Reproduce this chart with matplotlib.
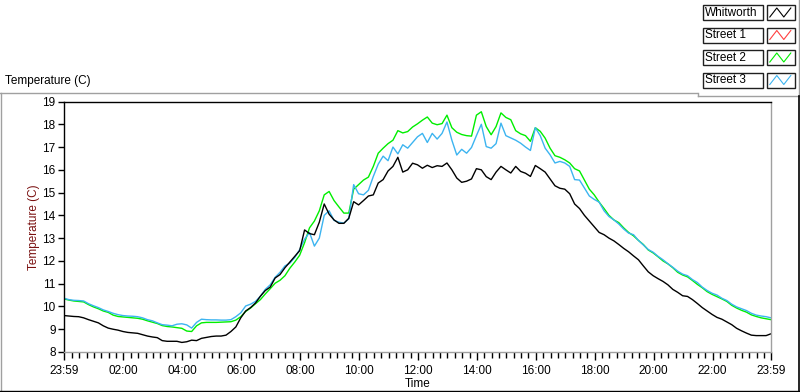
import numpy as np
import matplotlib
matplotlib.use('Agg')
import matplotlib.pyplot as plt
from matplotlib.patches import Rectangle

plt.rcParams['font.family'] = ['Liberation Sans', 'DejaVu Sans']

# sample times, minutes after 23:59 of the previous day (10 min steps)
minutes = np.arange(0, 1441, 10)

whitworth = [
    9.60, 9.58, 9.56, 9.55, 9.50, 9.42, 9.35, 9.28, 9.15, 9.05,
    9.00, 8.96, 8.90, 8.86, 8.84, 8.82, 8.76, 8.70, 8.66, 8.63,
    8.50, 8.47, 8.47, 8.47, 8.42, 8.45, 8.52, 8.50, 8.60, 8.64,
    8.68, 8.70, 8.70, 8.74, 8.90, 9.10, 9.50, 9.80, 9.95, 10.15,
    10.45, 10.70, 10.85, 11.25, 11.40, 11.70, 11.95, 12.20, 12.45, 13.36,
    13.20, 13.15, 13.70, 14.50, 14.05, 13.80, 13.65, 13.65, 13.87, 14.60,
    14.46, 14.65, 14.85, 14.90, 15.42, 15.57, 15.95, 16.15, 16.55, 15.90,
    16.00, 16.29, 16.22, 16.07, 16.20, 16.10, 16.18, 16.15, 16.30, 16.00,
    15.64, 15.45, 15.50, 15.60, 16.05, 16.00, 15.70, 15.57, 15.90, 16.15,
    16.00, 15.86, 16.15, 15.93, 15.85, 15.71, 16.19, 16.05, 15.90, 15.60,
    15.30, 15.19, 15.15, 14.95, 14.50, 14.30, 14.00, 13.75, 13.50, 13.25,
    13.15, 13.00, 12.88, 12.72, 12.55, 12.40, 12.22, 12.05, 11.78, 11.52,
    11.35, 11.22, 11.10, 10.95, 10.75, 10.62, 10.47, 10.44, 10.30, 10.13,
    9.95, 9.80, 9.65, 9.52, 9.44, 9.32, 9.20, 9.04, 8.93, 8.83,
    8.74, 8.72, 8.72, 8.72, 8.80,
]

street1 = []  # no data logged

street2 = [
    10.33, 10.28, 10.24, 10.22, 10.20, 10.08, 9.98, 9.90, 9.80, 9.74,
    9.62, 9.56, 9.54, 9.52, 9.50, 9.48, 9.44, 9.37, 9.31, 9.25,
    9.16, 9.12, 9.10, 9.07, 9.04, 8.92, 8.90, 9.15, 9.28, 9.30,
    9.30, 9.30, 9.31, 9.32, 9.33, 9.40, 9.55, 9.78, 9.93, 10.12,
    10.30, 10.55, 10.78, 11.02, 11.15, 11.35, 11.68, 11.95, 12.25, 12.80,
    13.45, 13.75, 14.20, 14.90, 15.05, 14.65, 14.37, 14.10, 14.10, 15.15,
    15.35, 15.55, 15.68, 16.15, 16.73, 16.95, 17.15, 17.30, 17.72, 17.62,
    17.68, 17.88, 18.02, 18.18, 18.32, 18.05, 17.98, 18.03, 18.40, 17.85,
    17.65, 17.55, 17.50, 17.48, 18.40, 18.55, 17.90, 17.54, 17.90, 18.50,
    18.30, 18.20, 17.72, 17.58, 17.50, 17.25, 17.85, 17.69, 17.39, 16.95,
    16.62, 16.55, 16.44, 16.30, 16.05, 15.95, 15.55, 15.15, 14.90, 14.58,
    14.30, 14.00, 13.80, 13.68, 13.45, 13.25, 13.10, 12.90, 12.72, 12.48,
    12.35, 12.18, 12.00, 11.87, 11.70, 11.50, 11.38, 11.30, 11.14, 10.97,
    10.82, 10.65, 10.53, 10.43, 10.33, 10.22, 10.05, 9.93, 9.83, 9.75,
    9.63, 9.56, 9.50, 9.46, 9.42,
]

street3 = [
    10.36, 10.30, 10.27, 10.26, 10.24, 10.12, 10.03, 9.95, 9.85, 9.78,
    9.70, 9.64, 9.60, 9.58, 9.57, 9.55, 9.50, 9.42, 9.37, 9.28,
    9.20, 9.18, 9.15, 9.22, 9.24, 9.19, 9.05, 9.30, 9.44, 9.42,
    9.41, 9.41, 9.40, 9.40, 9.42, 9.55, 9.72, 10.02, 10.10, 10.22,
    10.45, 10.75, 10.95, 11.28, 11.50, 11.78, 11.90, 12.15, 12.50, 12.95,
    13.25, 12.65, 13.00, 14.00, 14.20, 13.78, 13.70, 13.66, 13.85, 15.35,
    14.95, 14.90, 15.10, 15.71, 16.25, 16.60, 16.40, 17.00, 16.70, 17.10,
    16.95, 17.20, 17.45, 17.60, 17.20, 17.60, 17.35, 17.60, 18.10, 17.30,
    16.65, 16.90, 16.73, 16.98, 17.50, 18.00, 17.02, 16.95, 17.15, 18.05,
    17.50, 17.40, 17.30, 17.17, 17.00, 16.85, 17.85, 17.50, 16.95, 16.66,
    16.30, 16.37, 16.30, 16.15, 15.57, 15.55, 15.20, 14.85, 14.70, 14.58,
    14.20, 13.95, 13.80, 13.62, 13.40, 13.22, 13.15, 12.90, 12.70, 12.50,
    12.38, 12.20, 12.05, 11.88, 11.72, 11.55, 11.42, 11.35, 11.18, 11.05,
    10.85, 10.70, 10.58, 10.50, 10.36, 10.26, 10.10, 9.98, 9.90, 9.82,
    9.70, 9.62, 9.58, 9.55, 9.50,
]

names = ['Whitworth', 'Street 1', 'Street 2', 'Street 3']
colors = ['black', '#ff4040', '#00ee00', '#3cb4f0']

tick_pos = [0, 121, 241, 361, 481, 601, 721, 841, 961, 1081, 1201, 1321, 1440]
tick_labels = ['23:59', '02:00', '04:00', '06:00', '08:00', '10:00', '12:00',
               '14:00', '16:00', '18:00', '20:00', '22:00', '23:59']

W, H = 800, 392
fs = 8.5
fig = plt.figure(figsize=(W / 100, H / 100), dpi=100)
ax = fig.add_axes([64 / W, 40 / H, 707 / W, 250.5 / H])

# drawing order: green, blue, then black on top
ax.plot(minutes, street2, color=colors[2], lw=1.0)
ax.plot(minutes, street3, color=colors[3], lw=1.0)
ax.plot(minutes[:len(street1)], street1, color=colors[1], lw=1.0)
ax.plot(minutes, whitworth, color=colors[0], lw=1.0)

ax.set_xlim(0, 1440)
ax.set_ylim(8, 19)
ax.set_yticks(range(8, 20))
ax.set_xticks(tick_pos)
ax.set_xticklabels(tick_labels)
minor = [1 + 15 * k for k in range(1, 96) if k % 8 != 0]
ax.set_xticks(minor, minor=True)
ax.tick_params(axis='both', which='major', labelsize=fs, direction='out',
               color='black', width=1)
ax.tick_params(axis='y', length=4, pad=2)
ax.tick_params(axis='x', which='major', length=6, pad=3)
ax.tick_params(axis='x', which='minor', length=4, width=1, color='black')

for side in ['top', 'left']:
    ax.spines[side].set_color('black')
for side in ['bottom', 'right']:
    ax.spines[side].set_color('#a0a0a0')
for sp in ax.spines.values():
    sp.set_linewidth(1)

ax.set_xlabel('Time', fontsize=fs, labelpad=1)
ax.set_ylabel('Temperature (C)', fontsize=fs, color='#7a1010', labelpad=2)

# overlay in pixel coordinates for the panel frame and the plot legend
ov = fig.add_axes([0, 0, 1, 1], zorder=-1)
ov.set_xlim(0, W)
ov.set_ylim(H, 0)
ov.axis('off')

gray = '#a0a0a0'
ov.plot([0, 697], [92.5, 92.5], color=gray, lw=1)
ov.plot([697.5, 697.5], [92.5, 95.5], color=gray, lw=1)
ov.plot([697.5, 798.5], [95.5, 95.5], color=gray, lw=1)
ov.plot([798.5, 798.5], [0, 95.5], color=gray, lw=1)
ov.plot([0.5, 0.5], [92.5, 390.5], color=gray, lw=1)
ov.plot([0, 799], [390.5, 390.5], color='black', lw=1)
ov.plot([799, 799], [95.5, 391], color='black', lw=1.2)

ov.text(5, 81, 'Temperature (C)', fontsize=fs, va='center', ha='left')

zig_x = np.array([0.1, 0.35, 0.6, 0.85])
zig_y = np.array([0.2, 0.8, 0.2, 0.8])
for i, (name, c) in enumerate(zip(names, colors)):
    y0 = 5 + i * 22.5
    ov.add_patch(Rectangle((703, y0), 60, 15, fill=False, ec='#202020', lw=1))
    ov.text(705, y0 + 7.5, name, fontsize=fs, va='center', ha='left')
    ov.add_patch(Rectangle((767, y0), 28, 15, fill=False, ec='#202020', lw=1))
    ov.plot(767 + 28 * zig_x, y0 + 15 * (1 - zig_y), color=c, lw=0.8)

fig.savefig('out.png', dpi=100)
